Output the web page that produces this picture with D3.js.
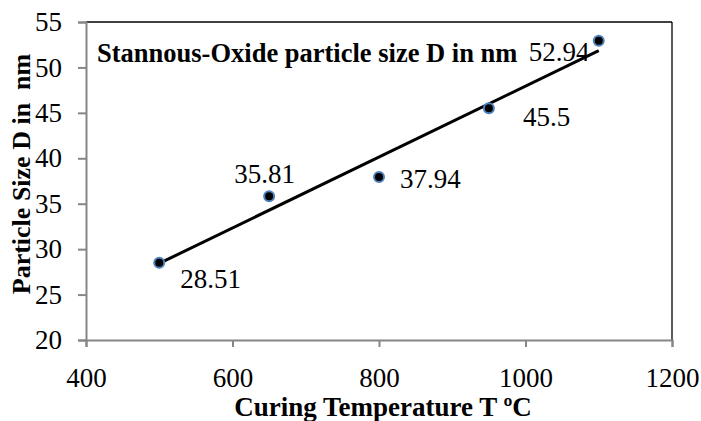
<!DOCTYPE html>
<html>
<head>
<meta charset="utf-8">
<script src="https://cdn.jsdelivr.net/npm/d3@7"></script>
<style>
  html, body { margin: 0; padding: 0; background: #fff; }
  svg text { font-family: "Liberation Serif", "Times New Roman", serif; fill: #000; }
</style>
</head>
<body>
<svg id="chart" width="701" height="421"></svg>
<script>
// Curing temperature (ºC) and measured particle size (nm)
const temperatures = [500, 650, 800, 950, 1100];
const particleSizes = [28.51, 35.81, 37.94, 45.5, 52.94];
const valueLabels = ["28.51", "35.81", "37.94", "45.5", "52.94"];
const xTicks = [400, 600, 800, 1000, 1200];
const yTicks = [20, 25, 30, 35, 40, 45, 50, 55];

// label placement relative to each marker [dx, dy]
const labelOffsets = [[21, 25], [-35, -13], [21, 11], [34, 18], [-70, 20]];

const serif = '"Liberation Serif", "Times New Roman", serif';
const svg = d3.select("#chart");
const margin = { left: 86, right: 29, top: 22, bottom: 81 };
const W = 701, H = 421;

const x = d3.scaleLinear().domain([400, 1200]).range([margin.left, W - margin.right]);
const y = d3.scaleLinear().domain([20, 55]).range([H - margin.bottom, margin.top]);

// plot area frame (top/right)
svg.append("line")
  .attr("x1", x(400)).attr("x2", x(1200)).attr("y1", y(55)).attr("y2", y(55))
  .attr("stroke", "#000").attr("stroke-width", 1.3);
svg.append("line")
  .attr("x1", x(1200)).attr("x2", x(1200)).attr("y1", y(55)).attr("y2", y(20))
  .attr("stroke", "#000").attr("stroke-width", 1.3);

// axes
const xAxis = d3.axisBottom(x).tickValues(xTicks).tickSize(7).tickPadding(21).tickFormat(d3.format("d"));
const yAxis = d3.axisLeft(y).tickValues(yTicks).tickSize(8).tickPadding(16).tickFormat(d3.format("d"));

const gx = svg.append("g").attr("transform", `translate(0,${y(20)})`).call(xAxis);
const gy = svg.append("g").attr("transform", `translate(${x(400)},0)`).call(yAxis);

[gx, gy].forEach(g => {
  g.attr("font-family", serif);
  g.select(".domain").attr("stroke", "#868686").attr("stroke-width", 2);
  g.selectAll(".tick line").attr("stroke", "#868686").attr("stroke-width", 2);
  g.selectAll(".tick text")
    .attr("font-family", serif)
    .attr("font-size", 27).attr("fill", "#000");
});

// least-squares linear trend through the measurements
const n = temperatures.length;
const mx = d3.mean(temperatures), my = d3.mean(particleSizes);
let sxy = 0, sxx = 0;
for (let i = 0; i < n; i++) {
  sxy += (temperatures[i] - mx) * (particleSizes[i] - my);
  sxx += (temperatures[i] - mx) ** 2;
}
const slope = sxy / sxx, intercept = my - slope * mx;
const xMin = d3.min(temperatures), xMax = d3.max(temperatures);
svg.append("line")
  .attr("x1", x(xMin)).attr("y1", y(intercept + slope * xMin))
  .attr("x2", x(xMax)).attr("y2", y(intercept + slope * xMax))
  .attr("stroke", "#000").attr("stroke-width", 3);

// markers
svg.selectAll("circle.pt")
  .data(temperatures)
  .join("circle")
  .attr("class", "pt")
  .attr("cx", d => x(d))
  .attr("cy", (d, i) => y(particleSizes[i]))
  .attr("r", 5)
  .attr("fill", "#000")
  .attr("stroke", "#4f81bd")
  .attr("stroke-width", 2);

// value labels
svg.selectAll("text.val")
  .data(temperatures)
  .join("text")
  .attr("class", "val")
  .attr("x", (d, i) => x(d) + labelOffsets[i][0])
  .attr("y", (d, i) => y(particleSizes[i]) + labelOffsets[i][1])
  .attr("font-family", serif)
  .attr("font-size", 27)
  .text((d, i) => valueLabels[i]);

// inner title
svg.append("text")
  .attr("x", 97).attr("y", 62)
  .attr("font-family", serif)
  .attr("font-size", 26.5).attr("font-weight", "bold")
  .text("Stannous-Oxide particle size D in nm");

// axis titles
svg.append("text")
  .attr("x", 383).attr("y", 416)
  .attr("text-anchor", "middle")
  .attr("font-family", serif)
  .attr("font-size", 27).attr("font-weight", "bold")
  .text("Curing Temperature T ºC");

svg.append("text")
  .attr("transform", "translate(30,174) rotate(-90)")
  .attr("text-anchor", "middle")
  .attr("font-family", serif)
  .attr("font-size", 26).attr("font-weight", "bold")
  .style("white-space", "pre")
  .text("Particle Size D in  nm");
</script>
</body>
</html>
